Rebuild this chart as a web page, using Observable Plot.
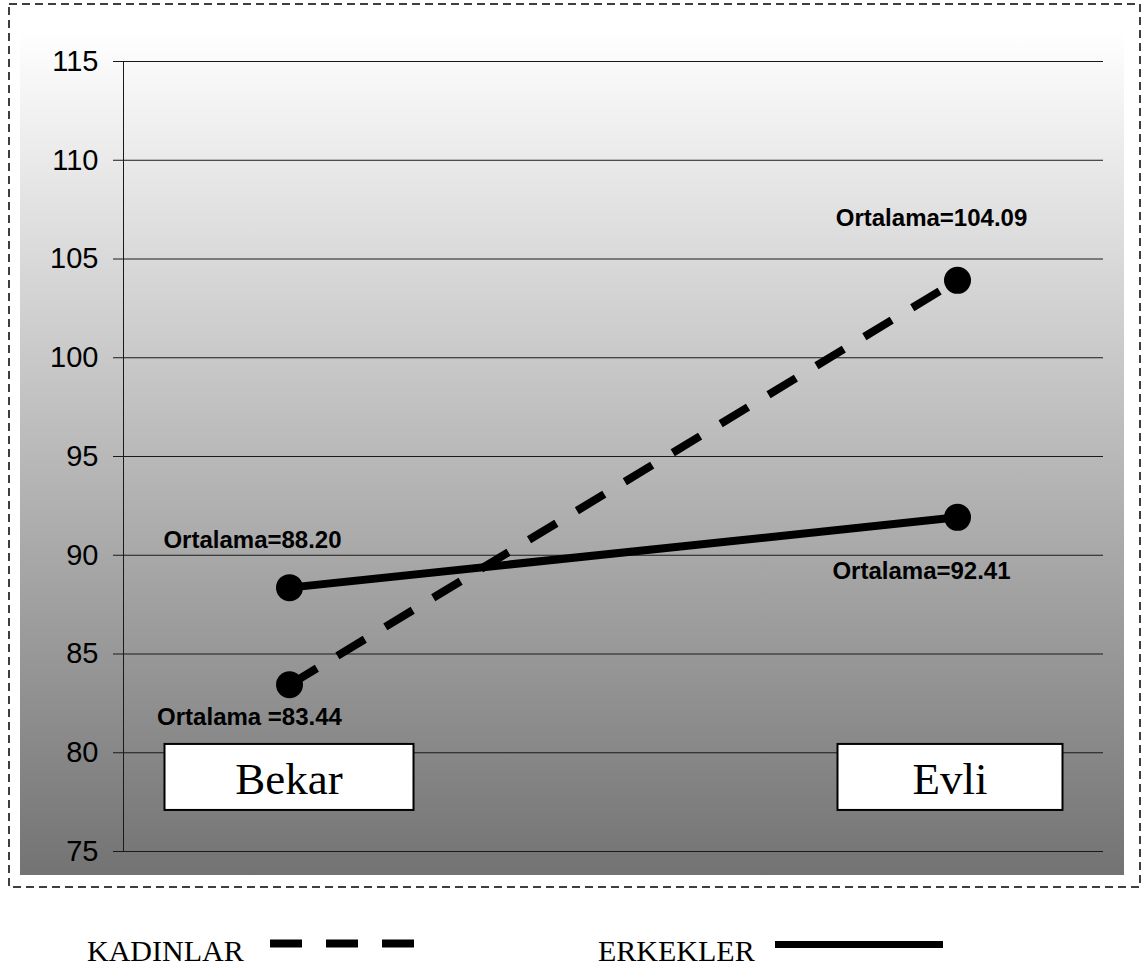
<!DOCTYPE html>
<html>
<head>
<meta charset="utf-8">
<script src="https://cdn.jsdelivr.net/npm/d3@7"></script>
<script src="https://cdn.jsdelivr.net/npm/@observablehq/plot@0.6"></script>
<style>
  html, body { margin: 0; padding: 0; background: #fff; }
  #wrap { width: 1147px; }
  svg { display: block; }
</style>
</head>
<body>
<div id="wrap"></div>
<script>
// ---- data ----
const categories = ["Bekar", "Evli"];
const kadinlarValues = [83.44, 103.92];   // as plotted in the picture
const erkeklerValues = [88.36, 91.92];
const kadinlarLabels = ["Ortalama =83.44", "Ortalama=104.09"];
const erkeklerLabels = ["Ortalama=88.20", "Ortalama=92.41"];
const yTicks = [75, 80, 85, 90, 95, 100, 105, 110, 115];
const legendNames = ["KADINLAR", "ERKEKLER"];

const kadinlar = categories.map((c, i) => ({cat: c, v: kadinlarValues[i], label: kadinlarLabels[i]}));
const erkekler = categories.map((c, i) => ({cat: c, v: erkeklerValues[i], label: erkeklerLabels[i]}));

// label offsets (px) relative to points
const kOff = [[-40, 33], [-26, -62]];
const eOff = [[-37, -47], [-36, 54]];

const labelStyle = {fontSize: 24, fontWeight: "bold", fill: "#000", textAnchor: "middle", lineAnchor: "middle"};
const labelMarks = [];
kadinlar.forEach((d, i) => labelMarks.push(Plot.text([d], {x: "cat", y: "v", text: "label", dx: kOff[i][0], dy: kOff[i][1], ...labelStyle})));
erkekler.forEach((d, i) => labelMarks.push(Plot.text([d], {x: "cat", y: "v", text: "label", dx: eOff[i][0], dy: eOff[i][1], ...labelStyle})));

const W = 1147, H = 900;
const plot = Plot.plot({
  width: W,
  height: H,
  marginLeft: 123,
  marginRight: 44,
  marginTop: 61,
  marginBottom: 49,
  style: {fontFamily: "'Liberation Sans', Arial, sans-serif", background: "transparent", overflow: "visible"},
  x: {type: "point", domain: categories, padding: 0.233, align: 0.533, axis: null},
  y: {domain: [75, 115], ticks: yTicks, label: null},
  marks: [
    Plot.gridY(yTicks, {stroke: "#1a1a1a", strokeOpacity: 1, strokeWidth: 1}),
    Plot.axisY(yTicks, {tickSize: 10, tickPadding: 15, fontSize: 29, stroke: "#1a1a1a", fill: "#000", label: null, tickFormat: d => String(d)}),
    Plot.frame({anchor: "left", stroke: "#1a1a1a"}),
    Plot.line(erkekler, {x: "cat", y: "v", stroke: "#000", strokeWidth: 8, strokeLinecap: "butt"}),
    Plot.line(kadinlar, {x: "cat", y: "v", stroke: "#000", strokeWidth: 8, strokeDasharray: "32,24", strokeLinecap: "butt"}),
    Plot.dot(erkekler, {x: "cat", y: "v", r: 13.5, fill: "#000", stroke: "none"}),
    Plot.dot(kadinlar, {x: "cat", y: "v", r: 13.5, fill: "#000", stroke: "none"}),
    ...labelMarks
  ]
});

const svg = d3.select(plot);
const xs = plot.scale("x"), ys = plot.scale("y");

// background gradient + dashed border (inserted behind everything)
const defs = svg.insert("defs", ":first-child");
const grad = defs.append("linearGradient").attr("id", "bg").attr("x1", 0).attr("y1", 0).attr("x2", 0).attr("y2", 1);
grad.append("stop").attr("offset", "0%").attr("stop-color", "#ffffff");
grad.append("stop").attr("offset", "100%").attr("stop-color", "#737373");
const bgG = svg.insert("g", "defs + *");
bgG.append("rect").attr("x", 20).attr("y", 31).attr("width", 1104).attr("height", 844).attr("fill", "url(#bg)");
bgG.append("rect").attr("x", 9).attr("y", 4).attr("width", 1131).attr("height", 883)
  .attr("fill", "none").attr("stroke", "#000").attr("stroke-width", 1.5).attr("stroke-dasharray", "8,5");

// category boxes
const boxW = {"Bekar": 249, "Evli": 225};
const boxDx = {"Bekar": 0, "Evli": -7};
const boxCy = ys.apply(78.75);
const boxG = svg.append("g");
categories.forEach(c => {
  const cx = xs.apply(c) + boxDx[c];
  boxG.append("rect").attr("x", cx - boxW[c] / 2).attr("y", boxCy - 33).attr("width", boxW[c]).attr("height", 66)
    .attr("fill", "#fff").attr("stroke", "#000").attr("stroke-width", 2);
  boxG.append("text").attr("x", cx).attr("y", boxCy + 17).attr("text-anchor", "middle")
    .attr("font-family", "'Liberation Serif', 'Times New Roman', serif").attr("font-size", 45).attr("fill", "#000").text(c);
});

document.getElementById("wrap").appendChild(plot);

// legend below
const leg = d3.select("#wrap").append("svg").attr("width", W).attr("height", 72);
const serif = "'Liberation Serif', 'Times New Roman', serif";
leg.append("text").attr("x", 87).attr("y", 61).attr("font-family", serif).attr("font-size", 30).text(legendNames[0]);
leg.append("line").attr("x1", 270).attr("x2", 415).attr("y1", 43.5).attr("y2", 43.5)
  .attr("stroke", "#000").attr("stroke-width", 8).attr("stroke-dasharray", "32,24");
leg.append("text").attr("x", 598).attr("y", 61).attr("font-family", serif).attr("font-size", 30).text(legendNames[1]);
leg.append("line").attr("x1", 775).attr("x2", 943).attr("y1", 44.5).attr("y2", 44.5)
  .attr("stroke", "#000").attr("stroke-width", 7);
</script>
</body>
</html>
